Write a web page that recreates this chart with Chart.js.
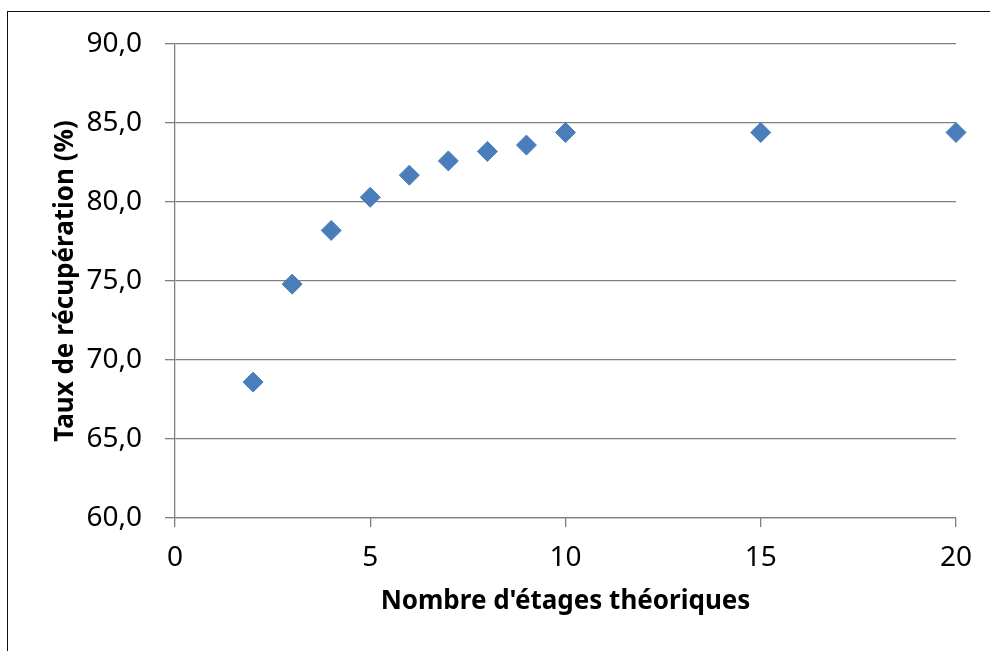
<!DOCTYPE html>
<html>
<head>
<meta charset="utf-8">
<script src="https://cdn.jsdelivr.net/npm/chart.js@4/dist/chart.umd.min.js"></script>
<style>
  html, body { margin: 0; padding: 0; background: #fff; overflow: hidden; }
  #wrap { position: relative; width: 990px; height: 651px; }
  #cadre {
    position: absolute; left: 7px; top: 11px; width: 1000px; height: 700px;
    border-left: 1.5px solid #111; border-top: 1.5px solid #111;
    pointer-events: none;
  }
</style>
</head>
<body>
<div id="wrap">
  <canvas id="myChart" width="990" height="651"></canvas>
  <div id="cadre"></div>
</div>
<script>
// nombre d'étages théoriques / taux de récupération (%)
const etages = [2, 3, 4, 5, 6, 7, 8, 9, 10, 15, 20];
const taux = [68.6, 74.8, 78.2, 80.3, 81.7, 82.6, 83.2, 83.6, 84.4, 84.4, 84.4];

const xMin = 0, xMax = 20, xPas = 5;
const yMin = 60, yMax = 90, yPas = 5;

const titreX = "Nombre d'étages théoriques";
const titreY = "Taux de récupération (%)";

const gris = "#808080";
const police = "'Noto Sans', 'Open Sans', sans-serif";

window.onload = function() {
    const ctx = document.getElementById("myChart").getContext("2d");
    new Chart(ctx, {
        type: "scatter",
        data: {
            datasets: [
                {
                    data: etages.map((e, i) => ({ x: e, y: taux[i] })),
                    clip: false, // le losange à 20 déborde du cadre
                    pointStyle: "rectRot",
                    pointRadius: 10,
                    pointBorderWidth: 1,
                    backgroundColor: "#4A7EBB",
                    borderColor: "#4A7EBB",
                },
            ],
        },
        options: {
            responsive: false,
            animation: false,
            layout: { padding: { top: 44, right: 34, left: 0, bottom: 0 } },
            plugins: {
                legend: { display: false },
                tooltip: { enabled: false },
            },
            scales: {
                x: {
                    type: "linear",
                    min: xMin,
                    max: xMax,
                    afterFit: (s) => { s.height = 133; },
                    ticks: {
                        stepSize: xPas,
                        color: "#000",
                        padding: 14,
                        font: { family: police, size: 28 },
                    },
                    grid: {
                        drawOnChartArea: false,
                        drawTicks: true,
                        tickLength: 9,
                        color: gris,
                        lineWidth: 1.3,
                    },
                    border: { color: gris, width: 1.3 },
                    title: {
                        display: true,
                        text: titreX,
                        color: "#000",
                        font: { family: police, size: 26, weight: "bold" },
                        padding: { top: 0, bottom: 34 },
                    },
                },
                y: {
                    min: yMin,
                    max: yMax,
                    afterFit: (s) => { s.width = 175; },
                    ticks: {
                        stepSize: yPas,
                        color: "#000",
                        padding: 23,
                        font: { family: police, size: 28 },
                        callback: (v) => v.toFixed(1).replace(".", ","),
                    },
                    grid: {
                        color: gris,
                        lineWidth: 1.3,
                        tickLength: 10,
                    },
                    border: { color: gris, width: 1.3 },
                    title: {
                        display: true,
                        text: titreY,
                        color: "#000",
                        font: { family: police, size: 26, weight: "bold" },
                        padding: { top: 50, bottom: 0 },
                    },
                },
            },
        },
    });
}
</script>
</body>
</html>
